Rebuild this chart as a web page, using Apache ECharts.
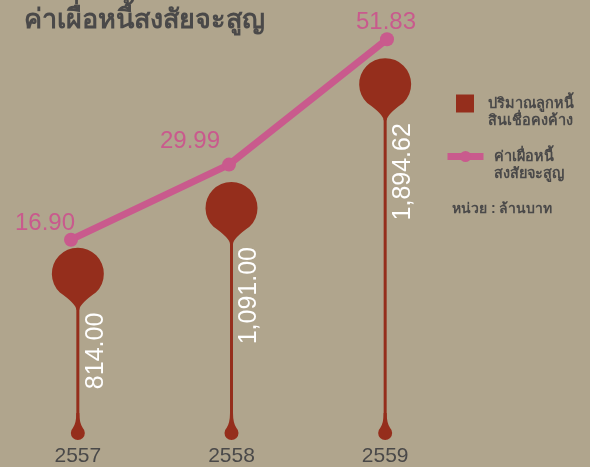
<!DOCTYPE html>
<html>
<head>
<meta charset="utf-8">
<script src="https://cdn.jsdelivr.net/npm/echarts@6/dist/echarts.min.js"></script>
<style>
html, body { margin: 0; padding: 0; background: #b0a58d; }
#ch { width: 590px; height: 467px; }
</style>
</head>
<body>
<div id="ch"></div>
<script>
// ข้อมูล
var years = ['2557', '2558', '2559'];
var loanValues = [814.00, 1091.00, 1894.62];
var allowanceValues = [16.90, 29.99, 51.83];
var loanName = 'ปริมาณลูกหนี้สินเชื่อคงค้าง';
var allowanceName = 'ค่าเผื่อหนี้สงสัยจะสูญ';
var loanLegend = ' \nปริมาณลูกหนี้\nสินเชื่อคงค้าง';
var allowanceLegend = ' \nค่าเผื่อหนี้\nสงสัยจะสูญ';
var unitText = 'หน่วย : ล้านบาท';

var red = '#952e1c';
var pink = '#c95a8d';
var gray = '#4a4949';
var font = '"Liberation Sans", Arial, sans-serif';

// หัวหมุด (วงกลม + คอเรียว) และหยดน้ำด้านล่าง
var pinHead = 'M26 0A26 26 0 0 1 44 44.8Q28 56 27.5 62L24.5 62Q24 56 8 44.8A26 26 0 0 1 26 0Z';
var pinDrop = 'M5.5 0L8.5 0Q8.5 10 11.95 15.05A7 7 0 1 1 2.05 15.05Q5.5 10 5.5 0Z';

// ป้ายของเส้น: เลื่อนไปทางซ้ายเล็กน้อยเหมือนต้นฉบับ
var lineLabelOffsets = [[-26, 6], [-39, -1], [-1, 5]];

function fmt(v) {
    return v.toLocaleString('en-US', { minimumFractionDigits: 2, maximumFractionDigits: 2 });
}

var chart = echarts.init(document.getElementById('ch'));
var option = {
    backgroundColor: '#b0a58d',
    title: [{
        text: allowanceName,
        left: 19,
        top: 2,
        textStyle: { color: gray, fontSize: 27, fontWeight: 'bold' }
    }, {
        text: unitText,
        left: 447,
        top: 197,
        textStyle: { color: gray, fontSize: 14, fontWeight: 'bold' }
    }],
    legend: [{
        data: [loanName],
        left: 451,
        top: 73,
        icon: 'rect',
        itemWidth: 18,
        itemHeight: 18,
        formatter: function () { return loanLegend; },
        textStyle: { color: gray, fontSize: 14.5, fontWeight: 'bold', lineHeight: 17, padding: [0, 0, 0, 9] }
    }, {
        data: [allowanceName],
        left: 439,
        top: 126,
        itemWidth: 36,
        itemHeight: 14,
        lineStyle: { width: 7 },
        formatter: function () { return allowanceLegend; },
        textStyle: { color: gray, fontSize: 14.5, fontWeight: 'bold', lineHeight: 17, padding: [0, 0, 0, 5] }
    }],
    grid: [
        { left: 1, width: 461, top: 40, bottom: 27 },
        { left: 71, width: 316, top: 40, bottom: 27 }
    ],
    xAxis: [{
        type: 'category',
        data: years,
        gridIndex: 0,
        axisLine: { show: false },
        axisTick: { show: false },
        axisLabel: { color: gray, fontSize: 21, fontFamily: font, margin: 9 }
    }, {
        type: 'category',
        data: years,
        gridIndex: 1,
        boundaryGap: false,
        show: false
    }],
    yAxis: [{
        type: 'log',
        gridIndex: 0,
        min: 461.6,
        max: 2708,
        show: false
    }, {
        type: 'value',
        gridIndex: 1,
        min: -18,
        max: 51.7,
        show: false
    }],
    series: [{
        name: loanName,
        type: 'custom',
        data: loanValues.map(function (v, i) { return [i, v]; }),
        encode: { x: 0, y: 1 },
        itemStyle: { color: red },
        renderItem: function (params, api) {
            var pt = api.coord([api.value(0), api.value(1)]);
            var x = pt[0], y = pt[1];
            var baseY = params.coordSys.y + params.coordSys.height;
            return {
                type: 'group',
                children: [{
                    type: 'rect',
                    shape: { x: x - 1.5, y: y - 2, width: 3, height: baseY - y },
                    style: { fill: red }
                }, {
                    type: 'path',
                    shape: { pathData: pinHead, x: x - 26, y: y - 62, width: 52, height: 62, layout: 'cover' },
                    style: { fill: red }
                }, {
                    type: 'path',
                    shape: { pathData: pinDrop, x: x - 7, y: baseY - 24, width: 14, height: 27, layout: 'cover' },
                    style: { fill: red }
                }, {
                    type: 'text',
                    x: x + 18,
                    y: y + 3,
                    rotation: Math.PI / 2,
                    style: {
                        text: fmt(api.value(1)),
                        fill: '#ffffff',
                        fontSize: 25,
                        fontFamily: font,
                        align: 'right',
                        verticalAlign: 'middle'
                    }
                }]
            };
        },
        z: 2
    }, {
        name: allowanceName,
        type: 'line',
        xAxisIndex: 1,
        yAxisIndex: 1,
        data: allowanceValues.map(function (v, i) {
            return { value: v, label: { offset: lineLabelOffsets[i] } };
        }),
        symbol: 'circle',
        symbolSize: 14,
        clip: false,
        lineStyle: { color: pink, width: 7 },
        itemStyle: { color: pink },
        label: {
            show: true,
            position: 'top',
            distance: 3,
            color: pink,
            fontSize: 24,
            fontFamily: font,
            formatter: function (p) { return p.value.toFixed(2); }
        },
        z: 5
    }]
};
chart.setOption(option);
</script>
</body>
</html>
